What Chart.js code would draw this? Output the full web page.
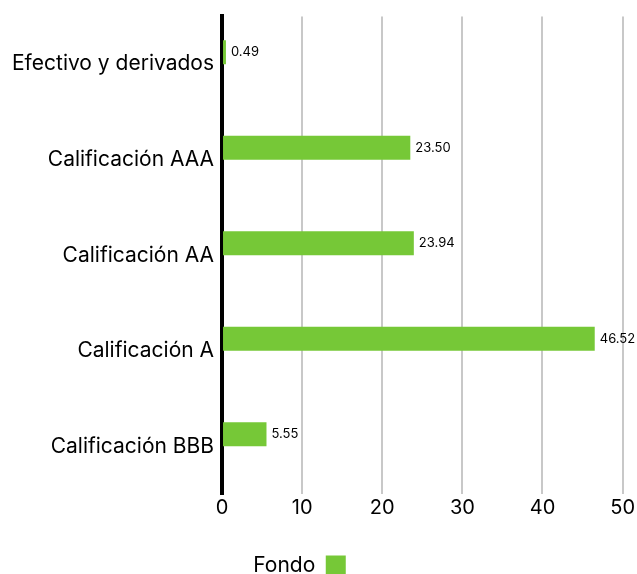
<!DOCTYPE html>
<html>
<head>
<meta charset="utf-8">
<script src="https://cdn.jsdelivr.net/npm/chart.js@4"></script>
<style>
  html, body { margin: 0; padding: 0; background: #fff; }
  #wrap { width: 637px; height: 574px; }
</style>
</head>
<body>
<div id="wrap"><canvas id="chart"></canvas></div>
<script>
const categories = ["Efectivo y derivados", "Calificación AAA", "Calificación AA", "Calificación A", "Calificación BBB"];
const fondo = [0.49, 23.50, 23.94, 46.52, 5.55];
const seriesName = "Fondo";
const xTicks = [0, 10, 20, 30, 40, 50];

const green = "#76c837";
const fontFamily = "Inter, 'Noto Sans', sans-serif";

// values written at the end of each bar
const barValues = {
    id: "barValues",
    afterDatasetsDraw(chart) {
        let ctx = chart.ctx;
        ctx.save();
        ctx.font = "13px " + fontFamily;
        ctx.fillStyle = "#000";
        ctx.textBaseline = "middle";
        chart.getDatasetMeta(0).data.forEach((bar, i) => {
            ctx.fillText(fondo[i].toFixed(2), bar.x + 5, bar.y);
        });
        ctx.restore();
    }
};

// legend sits a little left of the canvas centre
const legendShift = {
    id: "legendShift",
    afterLayout(chart) {
        chart.legend.left -= 14;
        chart.legend.right -= 14;
    }
};

new Chart(document.getElementById("chart").getContext("2d"), {
    type: "bar",
    data: {
        labels: categories,
        datasets: [
            { label: seriesName, data: fondo, backgroundColor: green, barPercentage: 1, categoryPercentage: 0.5 },
            { label: "", data: [], backgroundColor: "transparent", barPercentage: 1, categoryPercentage: 0.5 }
        ]
    },
    options: {
        indexAxis: "y",
        responsive: true,
        maintainAspectRatio: false,
        animation: false,
        layout: { padding: { top: 16, right: 14, left: 4, bottom: -12 } },
        plugins: {
            tooltip: { enabled: false },
            legend: {
                position: "bottom",
                rtl: true,
                textDirection: "ltr",
                labels: {
                    filter: item => item.text !== "",
                    boxWidth: 20,
                    boxHeight: 20,
                    color: "#000",
                    padding: 2,
                    font: { family: fontFamily, size: 21 }
                }
            }
        },
        scales: {
            x: {
                min: 0,
                max: 50,
                afterBuildTicks: axis => { axis.ticks = xTicks.map(v => ({ value: v })); },
                grid: { color: "#c8c8c8", lineWidth: 2, drawTicks: false },
                border: { display: false },
                ticks: { color: "#000", padding: 2, font: { family: fontFamily, size: 20 } },
                title: { display: true, text: " ", font: { size: 10 }, padding: { top: 0, bottom: 19 } }
            },
            y: {
                grid: { display: false, drawTicks: false },
                border: { color: "#000", width: 4 },
                ticks: { color: "#000", padding: 8, font: { family: fontFamily, size: 21, lineHeight: 0.8 } }
            }
        }
    },
    plugins: [barValues, legendShift]
});
</script>
</body>
</html>
